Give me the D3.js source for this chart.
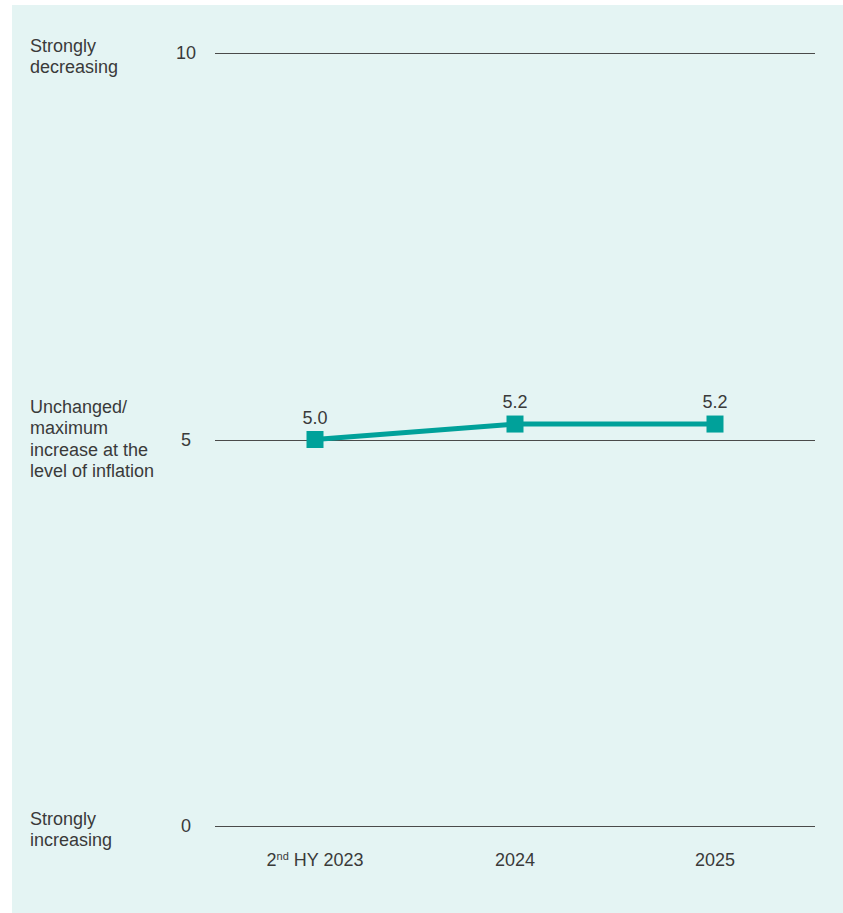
<!DOCTYPE html>
<html><head><meta charset="utf-8">
<script src="https://cdn.jsdelivr.net/npm/d3@7"></script>
<style>body{margin:0;background:#fff;}svg{display:block;}</style>
</head><body>
<svg id="chart" width="843" height="913"></svg>
<script>
const categories = ["2nd HY 2023", "2024", "2025"];
const values = [5.0, 5.2, 5.2];
const yTicks = [0, 5, 10];
const yTickLabels = [["Strongly", "increasing"], ["Unchanged/", "maximum", "increase at the", "level of inflation"], ["Strongly", "decreasing"]];

const svg = d3.select("#chart");
const font = "'Liberation Sans', Arial, sans-serif";
const textColor = "#3a3a3a";
svg.append("rect").attr("x", 12).attr("y", 5).attr("width", 831).attr("height", 908).attr("fill", "#e4f4f3");

const x = d3.scaleBand().domain(categories).range([215, 815]);
const y = d3.scaleLinear().domain([0, 10]).range([826, 53]);

// gridlines
svg.append("g").selectAll("line").data(yTicks).join("line")
  .attr("x1", 215).attr("x2", 815)
  .attr("y1", d => Math.round(y(d)) + 0.5).attr("y2", d => Math.round(y(d)) + 0.5)
  .attr("stroke", "#4a4a4a").attr("stroke-width", 1);

// tick numbers
svg.append("g").selectAll("text").data(yTicks).join("text")
  .attr("x", 186).attr("y", d => y(d)).attr("dy", "0.35em")
  .attr("text-anchor", "middle").attr("font-family", font).attr("font-size", 18).attr("fill", textColor)
  .text(d => d);

// category labels
const lab = svg.append("g").selectAll("text").data(yTicks).join("text")
  .attr("font-family", font).attr("font-size", 18).attr("fill", textColor);
lab.each(function(d, i) {
  const lines = yTickLabels[i];
  const lh = 21.5;
  const start = y(d) - (lines.length - 1) * lh / 2 + (lines.length === 2 ? 3 : -1);
  d3.select(this).selectAll("tspan").data(lines).join("tspan")
    .attr("x", 30).attr("y", (t, j) => start + j * lh).attr("dy", "0.35em").text(t => t);
});

// x axis labels
const xl = svg.append("g").selectAll("text").data(categories).join("text")
  .attr("x", d => x(d) + x.bandwidth() / 2).attr("y", 866)
  .attr("text-anchor", "middle").attr("font-family", font).attr("font-size", 18).attr("fill", textColor);
xl.each(function(d) {
  const t = d3.select(this);
  const m = d.match(/^(\d+)(st|nd|rd|th)(.*)$/);
  if (m) {
    t.append("tspan").text(m[1]);
    t.append("tspan").attr("font-size", 11).attr("dy", -6).text(m[2]);
    t.append("tspan").attr("dy", 6).text(m[3]);
  } else t.text(d);
});

// line
const cx = d => x(d) + x.bandwidth() / 2;
const line = d3.line().x((d, i) => cx(categories[i])).y(d => y(d));
svg.append("path").datum(values).attr("d", line)
  .attr("fill", "none").attr("stroke", "#00a19a").attr("stroke-width", 5);

svg.append("g").selectAll("rect").data(values).join("rect")
  .attr("x", (d, i) => cx(categories[i]) - 8.5).attr("y", d => y(d) - 8.5)
  .attr("width", 17).attr("height", 17).attr("fill", "#00a19a");

svg.append("g").selectAll("text").data(values).join("text")
  .attr("x", (d, i) => cx(categories[i])).attr("y", d => y(d) - 16)
  .attr("text-anchor", "middle").attr("font-family", font).attr("font-size", 18).attr("fill", textColor)
  .text(d => d.toFixed(1));
</script>
</body></html>
